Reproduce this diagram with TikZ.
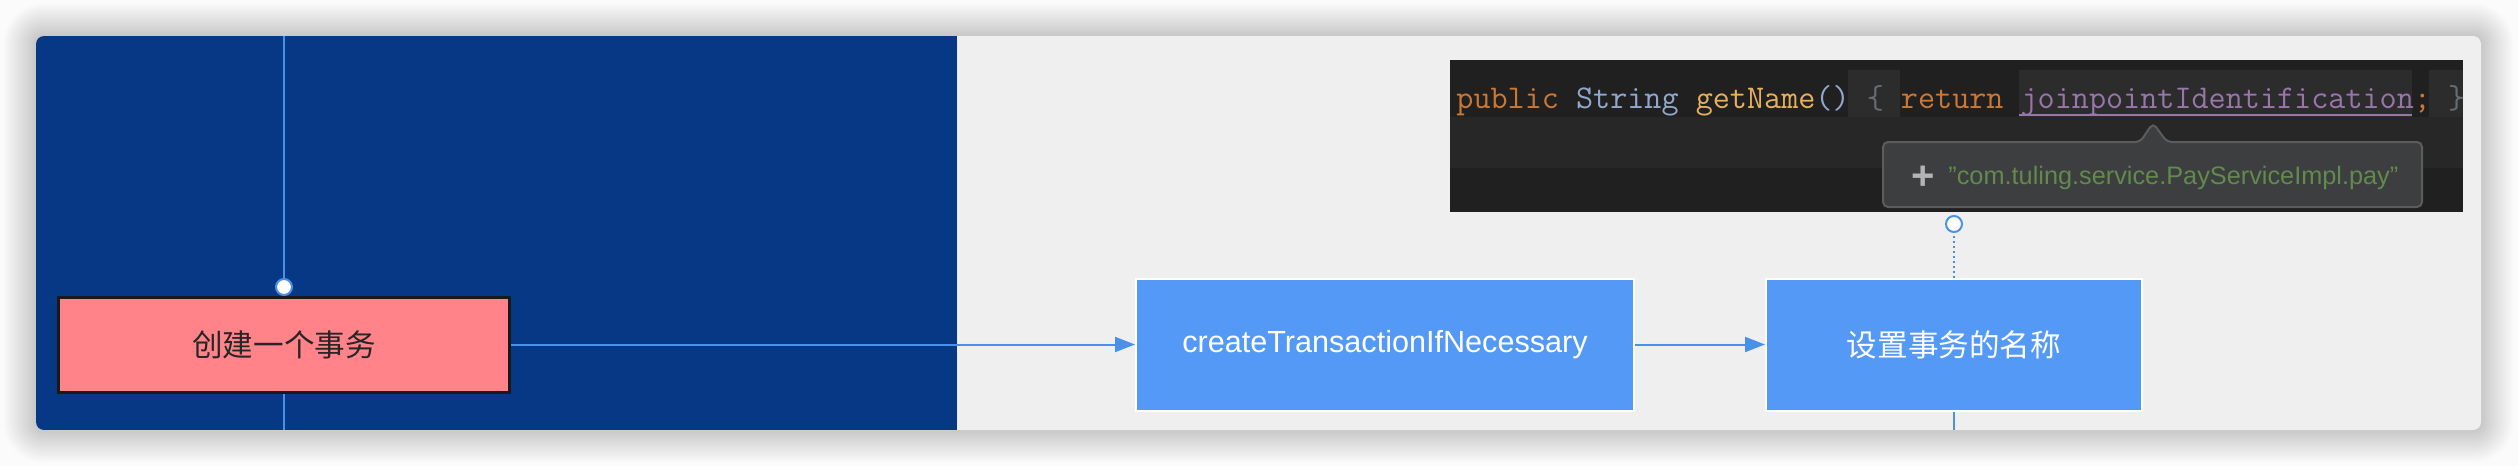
\documentclass[tikz,border=0pt]{standalone}
\usepackage{fontspec}
\setmainfont{Liberation Sans}
\newfontfamily\cjk{Noto Sans CJK SC}
\usetikzlibrary{arrows.meta}
\definecolor{pagebg}{HTML}{FBFBFB}
\definecolor{cardblue}{HTML}{063886}
\definecolor{cardgray}{HTML}{EFEFEF}
\definecolor{boxblue}{HTML}{5399F5}
\definecolor{linkblue}{HTML}{4A90E8}
\definecolor{redfill}{HTML}{FF8389}
\definecolor{codebg}{HTML}{202020}
\definecolor{codeband}{HTML}{272727}
\definecolor{codehl}{HTML}{2C2C2C}
\definecolor{kw}{HTML}{CC7832}
\definecolor{cls}{HTML}{8FA8CC}
\definecolor{meth}{HTML}{E6B05C}
\definecolor{brace}{HTML}{666C74}
\definecolor{fld}{HTML}{9876AA}
\definecolor{tipbg}{HTML}{3C3E3F}
\definecolor{tipborder}{HTML}{5C5C5C}
\definecolor{strgreen}{HTML}{628A4E}
\definecolor{plusgray}{HTML}{B4B4B4}
\begin{document}
\begin{tikzpicture}[x=0.5pt,y=-0.5pt,
  flowbox/.style={rectangle, fill=boxblue, draw=white, line width=1pt, text=white,
    minimum height=66pt, inner sep=0pt},
  startbox/.style={rectangle, fill=redfill, draw=black!90, line width=1.5pt,
    minimum width=225.5pt, minimum height=47.5pt, inner sep=0pt,
    font=\cjk\fontsize{15.3pt}{18pt}\selectfont, text=black!85},
  latinlabel/.style={font=\fontsize{15.3pt}{18pt}\selectfont},
  cjklabel/.style={font=\cjk\fontsize{15.3pt}{18pt}\selectfont},
  joint/.style={circle, fill=white, draw=linkblue, line width=1pt, minimum size=8pt, inner sep=0pt},
  link/.style={draw=linkblue, line width=0.75pt},
  dotlink/.style={draw=linkblue, line width=0.9pt, dash pattern=on 1pt off 1.5pt},
  flow/.style={draw=linkblue, line width=1pt, -{Triangle[length=10pt,width=7.5pt]}},
]
\useasboundingbox (0,0) rectangle (2518,466);
\fill[pagebg] (0,0) rectangle (2518,466);
% shadow
\foreach \i [evaluate=\i as \r using 4+\i*0.65, evaluate=\i as \d using \i*1.3] in {1,...,25}
  \fill[black, opacity=0.008, rounded corners=\r pt] ({36-\d},{36-\d}) rectangle ({2481+\d},{430+\d});
% card
\fill[cardgray, rounded corners=4pt] (36,36) rectangle (2481,430);
\begin{scope}
  \clip[rounded corners=4pt] (36,36) rectangle (2481,430);
  \fill[cardblue] (36,36) rectangle (957,430);
\end{scope}
% code screenshot
\fill[codebg] (1450,60) rectangle (2463,212);
\fill[codeband] (1450,117) rectangle (2463,168);
\fill[codehl] (1848,70) rectangle (1900,117);
\fill[codehl] (2019,70) rectangle (2412,117);
\fill[codehl] (2429,70) rectangle (2463,117);
\node[anchor=base west, inner sep=0pt, font=\ttfamily\fontsize{16.6pt}{18pt}\selectfont] (code) at (1456,108)
  {\textcolor{kw}{public} \textcolor{cls}{String} \textcolor{meth}{getName}\textcolor{cls}{()} \textcolor{brace}{\{} \textcolor{kw}{return} \textcolor{fld}{joinpointIdentification}\textcolor{kw}{;} \textcolor{brace}{\}}};
\draw[fld, line width=1pt] (2019,114.5) -- (2412,114.5);
% tooltip
\draw[fill=tipbg, draw=tipborder, line width=1pt, rounded corners=2.5pt]
  (2153,123) -- (2167,142) -- (2422,142) -- (2422,207) -- (1883,207) -- (1883,142) -- (2140,142) -- cycle;
\node[inner sep=0pt, font=\fontsize{20pt}{20pt}\selectfont\bfseries, text=plusgray] (plus) at (1923,178) {+};
\node[anchor=base west, inner sep=0pt, font=\fontsize{12.65pt}{15pt}\selectfont, text=strgreen] (tip) at (1948,184)
  {"com.tuling.service.PayServiceImpl.pay"};
% flow nodes
\node[startbox] (start) at (284,344.5) {创建一个事务};
\node[flowbox, latinlabel, minimum width=249pt] (create) at (1385,344.5) {createTransactionIfNecessary};
\node[flowbox, cjklabel, minimum width=188pt] (setname) at (1954,344.5) {设置事务的名称};
\node[joint] (j1) at (284,287) {};
\node[joint] (j2) at (1954,224) {};
\coordinate (top1) at (284,36);
\coordinate (bot1) at (284,430);
\coordinate (bot2) at (1954,430);
% connectors
\draw[link] (top1) -- (j1);
\draw[link] (start.south) -- (bot1);
\draw[flow] (start.east) -- (create.west);
\draw[flow] (create.east) -- (setname.west);
\draw[dotlink] (setname.north) -- (j2);
\draw[link] (setname.south) -- (bot2);
\end{tikzpicture}
\end{document}
